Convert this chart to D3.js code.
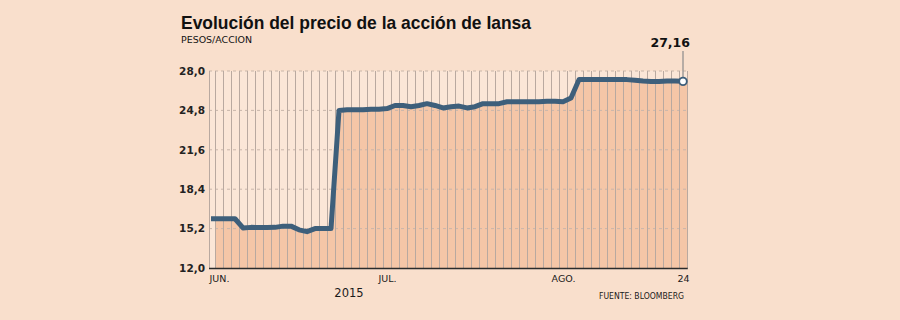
<!DOCTYPE html>
<html>
<head>
<meta charset="utf-8">
<script src="https://cdn.jsdelivr.net/npm/d3@7"></script>
<style>
	body { margin: 0; background: #f9dfcc; }
	svg { display: block; }
</style>
</head>
<body>
<svg id="wrapper" width="900" height="320"></svg>
<script>
// closing price per trading day, 29 may 2015 .. 24 aug 2015
let prices = [
	16.0, 16.0, 16.0, 16.0, 15.25, 15.3, 15.28, 15.28, 15.3, 15.4,
	15.4, 15.1, 14.95, 15.2, 15.2, 15.2, 24.8, 24.85, 24.85, 24.85,
	24.9, 24.9, 24.95, 25.2, 25.2, 25.1, 25.2, 25.35, 25.2, 25.0,
	25.1, 25.15, 25.0, 25.1, 25.35, 25.35, 25.35, 25.5, 25.5, 25.5,
	25.5, 25.5, 25.55, 25.55, 25.5, 25.8, 27.3, 27.3, 27.3, 27.3,
	27.3, 27.3, 27.3, 27.25, 27.18, 27.15, 27.15, 27.18, 27.18, 27.16
];
let xTickIndex = [1, 22, 44, 59];
let xTickLabels = ["JUN.", "JUL.", "AGO.", "24"];
let yTicks = [12.0, 15.2, 18.4, 21.6, 24.8, 28.0];
let lastLabel = "27,16";

let svg = d3.select("#wrapper");

let lineColor = "#3e5f7b";
let fillColor = "#f5c6a7";
let gridColor = "#b9a9a0";

let x = d3.scaleLinear().domain([0, prices.length - 1]).range([211, 683]);
let y = d3.scaleLinear().domain([12, 28]).range([268, 71]);

let comma = (v) => v.toFixed(1).replace(".", ",");

let draw = function () {
	// titles
	svg.append("text")
		.attr("x", 181).attr("y", 29)
		.attr("font-family", "'Liberation Sans Narrow', 'Liberation Sans', sans-serif")
		.attr("font-weight", "bold").attr("font-size", 19)
		.attr("textLength", 350).attr("lengthAdjust", "spacingAndGlyphs")
		.attr("fill", "#111")
		.text("Evolución del precio de la acción de Iansa");
	svg.append("text")
		.attr("x", 181).attr("y", 43)
		.attr("font-family", "'DejaVu Sans', sans-serif")
		.attr("font-size", 8.5)
		.attr("textLength", 71).attr("lengthAdjust", "spacingAndGlyphs")
		.attr("fill", "#111")
		.text("PESOS/ACCION");

	// plot background
	svg.append("rect")
		.attr("x", 209).attr("y", y(28))
		.attr("width", x(59.6) - 209).attr("height", y(12) - y(28))
		.attr("fill", "#fbe6d7");

	svg.append("clipPath").attr("id", "plotclip")
		.append("rect")
		.attr("x", x(0.5)).attr("y", 0)
		.attr("width", x(59.6) - x(0.5)).attr("height", 320);

	let area = d3.area()
		.x((d, i) => x(i))
		.y0(y(12))
		.y1((d) => y(d));

	svg.append("path")
		.datum(prices)
		.attr("d", area)
		.attr("fill", fillColor)
		.attr("clip-path", "url(#plotclip)");
	svg.append("rect")
		.attr("x", x(prices.length - 1)).attr("y", y(prices[prices.length - 1]))
		.attr("width", x(59.6) - x(prices.length - 1))
		.attr("height", y(12) - y(prices[prices.length - 1]))
		.attr("fill", fillColor);

	// horizontal dotted grid
	svg.append("g")
		.selectAll("line")
		.data(yTicks.filter((d) => d > 12))
		.enter()
		.append("line")
		.attr("x1", 209).attr("x2", x(59.6))
		.attr("y1", (d) => y(d)).attr("y2", (d) => y(d))
		.attr("stroke", "#c9b6aa").attr("stroke-width", 1)
		.attr("stroke-dasharray", "3,3");

	// vertical grid, one per trading day
	svg.append("g")
		.selectAll("line")
		.data(d3.range(prices.length))
		.enter()
		.append("line")
		.attr("x1", (d) => Math.round(x(d + 0.5)) + 0.5)
		.attr("x2", (d) => Math.round(x(d + 0.5)) + 0.5)
		.attr("y1", y(28)).attr("y2", y(12))
		.attr("stroke", gridColor).attr("stroke-width", 1);

	svg.append("line")
		.attr("x1", 209.5).attr("x2", 209.5)
		.attr("y1", y(28)).attr("y2", y(12))
		.attr("stroke", gridColor);

	// y axis labels
	let yAxis = svg.append("g")
		.attr("transform", "translate(209,0)")
		.call(d3.axisLeft(y).tickValues(yTicks).tickFormat(comma).tickSize(0).tickPadding(4));
	yAxis.select(".domain").remove();
	yAxis.selectAll("text")
		.attr("font-family", "'DejaVu Sans', sans-serif")
		.attr("font-size", 10.5)
		.attr("font-weight", "bold")
		.attr("fill", "#222");

	// x axis
	let xAxis = svg.append("g")
		.attr("transform", "translate(0," + y(12) + ")")
		.call(d3.axisBottom(x).tickValues(xTickIndex)
			.tickFormat((d, i) => xTickLabels[i]).tickSize(0).tickPadding(7));
	xAxis.select(".domain").remove();
	xAxis.selectAll("text")
		.attr("font-family", "'DejaVu Sans', sans-serif")
		.attr("font-size", 9.5)
		.attr("fill", "#1a1a1a");

	svg.append("line")
		.attr("x1", 209).attr("x2", x(59.6))
		.attr("y1", y(12) + 0.5).attr("y2", y(12) + 0.5)
		.attr("stroke", "#2b2b2b").attr("stroke-width", 1.5);

	svg.append("text")
		.attr("x", 349).attr("y", 297)
		.attr("text-anchor", "middle")
		.attr("font-family", "'DejaVu Sans', sans-serif")
		.attr("font-size", 11.5)
		.attr("fill", "#1a1a1a")
		.text("2015");

	svg.append("text")
		.attr("x", 684).attr("y", 299)
		.attr("text-anchor", "end")
		.attr("font-family", "'DejaVu Sans', sans-serif")
		.attr("font-size", 9)
		.attr("textLength", 85).attr("lengthAdjust", "spacingAndGlyphs")
		.attr("fill", "#1a1a1a")
		.text("FUENTE: BLOOMBERG");

	// price line
	let line = d3.line()
		.x((d, i) => x(i))
		.y((d) => y(d));

	svg.append("path")
		.datum(prices)
		.attr("d", line)
		.attr("fill", "none")
		.attr("stroke", lineColor)
		.attr("stroke-width", 5)
		.attr("stroke-linejoin", "round")
		.attr("stroke-linecap", "butt");

	// last value marker
	let lastX = x(prices.length - 1);
	let lastY = y(prices[prices.length - 1]);
	svg.append("line")
		.attr("x1", lastX).attr("x2", lastX)
		.attr("y1", 51).attr("y2", lastY)
		.attr("stroke", "#8a8a8a").attr("stroke-width", 1.2);
	svg.append("circle")
		.attr("cx", lastX).attr("cy", lastY).attr("r", 3.8)
		.attr("fill", "#fff")
		.attr("stroke", lineColor).attr("stroke-width", 1.8);
	svg.append("text")
		.attr("x", 690).attr("y", 46.5)
		.attr("text-anchor", "end")
		.attr("font-family", "'DejaVu Sans', sans-serif")
		.attr("font-weight", "bold").attr("font-size", 12.5)
		.attr("fill", "#111")
		.text(lastLabel);
};

draw();
</script>
</body>
</html>
